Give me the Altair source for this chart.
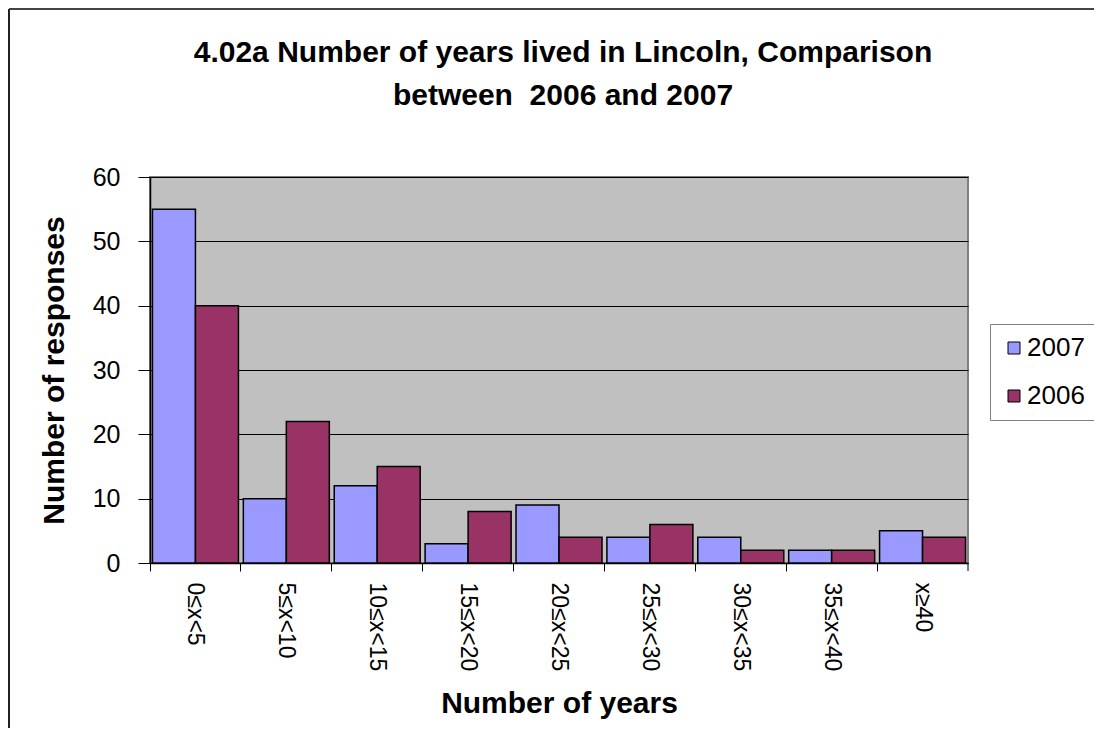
import altair as alt
import pandas as pd

categories = ["0≤x<5", "5≤x<10", "10≤x<15", "15≤x<20", "20≤x<25",
              "25≤x<30", "30≤x<35", "35≤x<40", "x≥40"]
series = ["2007", "2006"]
values_2007 = [55, 10, 12, 3, 9, 4, 4, 2, 5]
values_2006 = [40, 22, 15, 8, 4, 6, 2, 2, 4]
y_ticks = [0, 10, 20, 30, 40, 50, 60]
colors = ["#9999FF", "#993366"]
title_lines = ["4.02a Number of years lived in Lincoln, Comparison", "between\u00a0 2006 and 2007"]

rows = []
for c, a, b in zip(categories, values_2007, values_2006):
    rows.append({"range": c, "year": "2007", "count": a})
    rows.append({"range": c, "year": "2006", "count": b})
df = pd.DataFrame(rows)

W, H = 818, 386
PL, PT, PR, PB = 142, 169, 126, 165
FONT = "Liberation Sans"

bars = alt.Chart(df).mark_bar(stroke="black", strokeWidth=1.5).encode(
    x=alt.X("range:N", sort=categories,
            scale=alt.Scale(paddingInner=0, paddingOuter=0),
            axis=alt.Axis(title="Number of years", labelAngle=90, labelAlign="left",
                          labelBaseline="middle", labelPadding=11, ticks=True, tickSize=8,
                          tickColor="black", bandPosition=0,
                          labelFont=FONT, labelFontSize=23, labelColor="black",
                          domainColor="black", domainWidth=1.5, grid=False,
                          titleFont=FONT, titleFontSize=30, titleFontWeight="bold",
                          titleColor="black", titleX=W / 2, titleY=140,
                          titleBaseline="middle", titleAlign="center")),
    xOffset=alt.XOffset("year:N", sort=series,
                        scale=alt.Scale(domain=series, paddingOuter=0.057, paddingInner=0)),
    y=alt.Y("count:Q", scale=alt.Scale(domain=[0, 60]),
            axis=alt.Axis(title="Number of responses", values=y_ticks, tickSize=12,
                          tickColor="black", domainColor="black", domainWidth=1.5,
                          labelFont=FONT, labelFontSize=25, labelColor="black",
                          labelPadding=18, grid=True, gridColor="black", gridWidth=1,
                          titleFont=FONT, titleFontSize=30, titleFontWeight="bold",
                          titleColor="black", titleX=-96, titleY=H / 2, titleAngle=270,
                          titleBaseline="middle", titleAlign="center")),
    color=alt.Color("year:N", sort=series,
                    scale=alt.Scale(domain=series, range=colors),
                    legend=alt.Legend(title=None, orient="none", legendX=840, legendY=147,
                                      padding=11, strokeColor="#808080", fillColor="white",
                                      symbolType="square", symbolSize=144,
                                      symbolStrokeColor="black", symbolStrokeWidth=1,
                                      labelFont=FONT, labelFontSize=26, labelColor="black",
                                      labelOffset=0, rowPadding=22)),
)

one = pd.DataFrame({"a": [0]})
last_tick = alt.Chart(one).mark_rule(color="black", strokeWidth=1).encode(
    x=alt.value(W), y=alt.value(H), y2=alt.value(H + 8)
)
border_left = alt.Chart(one).mark_rule(color="#222222", strokeWidth=2).encode(
    x=alt.value(-PL + 1), y=alt.value(-PT + 1), y2=alt.value(H + PB)
)
border_top = alt.Chart(one).mark_rule(color="#444444", strokeWidth=2).encode(
    x=alt.value(-PL + 1), x2=alt.value(W + PR), y=alt.value(-PT + 1)
)
title1 = alt.Chart(one).mark_text(
    text=title_lines[0], font=FONT, fontSize=30, fontWeight="bold", color="black",
    align="center", baseline="middle"
).encode(x=alt.value(W / 2 + 4), y=alt.value(-124))
title2 = alt.Chart(one).mark_text(
    text=title_lines[1], font=FONT, fontSize=30, fontWeight="bold", color="black",
    align="center", baseline="middle"
).encode(x=alt.value(W / 2 + 4), y=alt.value(-81))

chart = alt.layer(bars, last_tick, border_left, border_top, title1, title2).properties(
    width=W, height=H,
    autosize=alt.AutoSizeParams(type="none"),
    padding={"left": PL, "top": PT, "right": PR, "bottom": PB},
    background="white",
).configure_view(
    fill="#C0C0C0", stroke="#808080", strokeWidth=2
)

chart.save("out.html", embed_options={"renderer": "svg", "actions": False})
